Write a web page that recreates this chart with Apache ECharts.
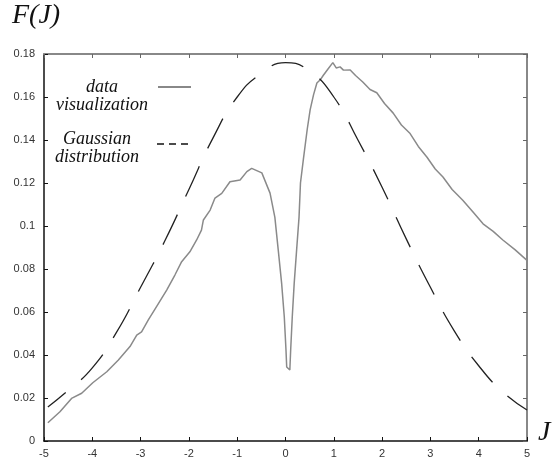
<!DOCTYPE html>
<html>
<head>
<meta charset="utf-8">
<script src="https://cdn.jsdelivr.net/npm/echarts@6/dist/echarts.min.js"></script>
<style>html,body{margin:0;padding:0;background:#fff}#c{width:553px;height:471px}</style>
</head>
<body>
<div id="c"></div>
<script>
// Data
var dataX = [-4.92,-4.67,-4.43,-4.22,-3.99,-3.70,-3.46,-3.22,-3.08,-2.98,-2.84,-2.67,-2.46,-2.29,-2.15,-1.98,-1.84,-1.74,-1.70,-1.56,-1.46,-1.32,-1.15,-0.94,-0.80,-0.70,-0.49,-0.32,-0.22,-0.15,-0.08,-0.025,0.01,0.025,0.09,0.107,0.14,0.18,0.23,0.28,0.31,0.37,0.45,0.51,0.58,0.65,0.72,0.78,0.88,0.98,1.05,1.13,1.20,1.34,1.45,1.60,1.75,1.89,2.05,2.23,2.40,2.58,2.75,2.93,3.10,3.26,3.45,3.67,3.90,4.09,4.30,4.50,4.75,5.00];
var dataY = [0.0085,0.0136,0.0198,0.0222,0.0271,0.0322,0.0377,0.0439,0.0493,0.0508,0.0563,0.0625,0.0702,0.0772,0.0834,0.0880,0.0935,0.0981,0.1028,0.1074,0.1130,0.1152,0.1206,0.1214,0.1253,0.1268,0.1247,0.1153,0.1040,0.0888,0.0733,0.0577,0.0423,0.0344,0.0330,0.0423,0.0577,0.0733,0.0888,0.1040,0.1200,0.1310,0.1450,0.1540,0.1610,0.1665,0.1680,0.1700,0.1730,0.1760,0.1735,0.1740,0.1725,0.1726,0.1700,0.1670,0.1635,0.1620,0.1570,0.1525,0.1470,0.1430,0.1370,0.1320,0.1265,0.1228,0.1170,0.1120,0.1060,0.1010,0.0975,0.0935,0.0890,0.0840];
var gaussX = [-4.92,-4.5,-4,-3.5,-3,-2.5,-2,-1.5,-1,-0.5,0,0.5,1,1.5,2,2.5,3,3.5,4,4.5,5];
var gaussY = [0.0158,0.0235,0.034,0.0505,0.0715,0.093,0.117,0.141,0.160,0.171,0.176,0.172,0.160,0.140,0.118,0.094,0.0715,0.051,0.035,0.0228,0.0144];
var xTicks = {min:-5, max:5, step:1};
var yTicks = {min:0, max:0.18, step:0.02};
var legendLabels = [["data","visualization"],["Gaussian","distribution"]];
var yTitle = "F(J)";
var xTitle = "J";

function pairs(xs, ys){ return xs.map(function(x,i){ return [x, ys[i]]; }); }

var chart = echarts.init(document.getElementById('c'), null, {renderer:'canvas'});
var labelStyle = {color:'#333', fontSize:11, fontFamily:'Liberation Sans, Arial, sans-serif'};
var serif = 'italic 18px "Liberation Serif", "Times New Roman", serif';
var bigSerif = 'italic 28px "Liberation Serif", "Times New Roman", serif';
chart.setOption({
  animation:false,
  backgroundColor:'#fff',
  grid:{left:44, right:26, top:54, bottom:30},
  xAxis:[
    {type:'value', min:xTicks.min, max:xTicks.max, interval:xTicks.step, position:'bottom',
     axisLine:{onZero:false, lineStyle:{color:'#111', width:1.5}}, axisTick:{inside:true, length:4, lineStyle:{color:'#111'}},
     axisLabel:Object.assign({margin:7}, labelStyle), splitLine:{show:false}},
    {type:'value', min:xTicks.min, max:xTicks.max, interval:xTicks.step, position:'top',
     axisLine:{show:true, onZero:false, lineStyle:{color:'#888', width:2}}, axisTick:{inside:true, length:4, lineStyle:{color:'#666'}},
     axisLabel:{show:false}, splitLine:{show:false}}
  ],
  yAxis:[
    {type:'value', min:yTicks.min, max:yTicks.max, interval:yTicks.step, position:'left',
     axisLine:{show:true, onZero:false, lineStyle:{color:'#111', width:1.5}}, axisTick:{show:true, inside:true, length:4, lineStyle:{color:'#111'}},
     axisLabel:Object.assign({margin:9}, labelStyle), splitLine:{show:false}},
    {type:'value', min:yTicks.min, max:yTicks.max, interval:yTicks.step, position:'right',
     axisLine:{show:true, onZero:false, lineStyle:{color:'#888', width:2}}, axisTick:{show:true, inside:true, length:4, lineStyle:{color:'#666'}},
     axisLabel:{show:false}, splitLine:{show:false}}
  ],
  series:[
    {type:'line', data:pairs(dataX, dataY), showSymbol:false, smooth:false,
     lineStyle:{color:'#8a8a8a', width:1.5}},
    {type:'line', data:pairs(gaussX, gaussY), showSymbol:false, smooth:true,
     lineStyle:{color:'#222', width:1.3, type:[33,20], dashOffset:10}}
  ],
  graphic:[
    {type:'text', left:12, top:2, style:{text:yTitle, font:bigSerif, fill:'#111'}},
    {type:'text', left:538, top:419, style:{text:xTitle, font:bigSerif, fill:'#111'}},
    {type:'text', x:102, y:87, style:{text:legendLabels[0][0], font:serif, fill:'#111', align:'center', verticalAlign:'middle'}},
    {type:'text', x:102, y:105, style:{text:legendLabels[0][1], font:serif, fill:'#111', align:'center', verticalAlign:'middle'}},
    {type:'text', x:97, y:139, style:{text:legendLabels[1][0], font:serif, fill:'#111', align:'center', verticalAlign:'middle'}},
    {type:'text', x:97, y:157, style:{text:legendLabels[1][1], font:serif, fill:'#111', align:'center', verticalAlign:'middle'}},
    {type:'line', shape:{x1:158, y1:87, x2:191, y2:87}, style:{stroke:'#888', lineWidth:2}},
    {type:'line', shape:{x1:157, y1:144, x2:191, y2:144}, style:{stroke:'#111', lineWidth:1.5, lineDash:[7,5]}}
  ]
});
</script>
</body>
</html>
